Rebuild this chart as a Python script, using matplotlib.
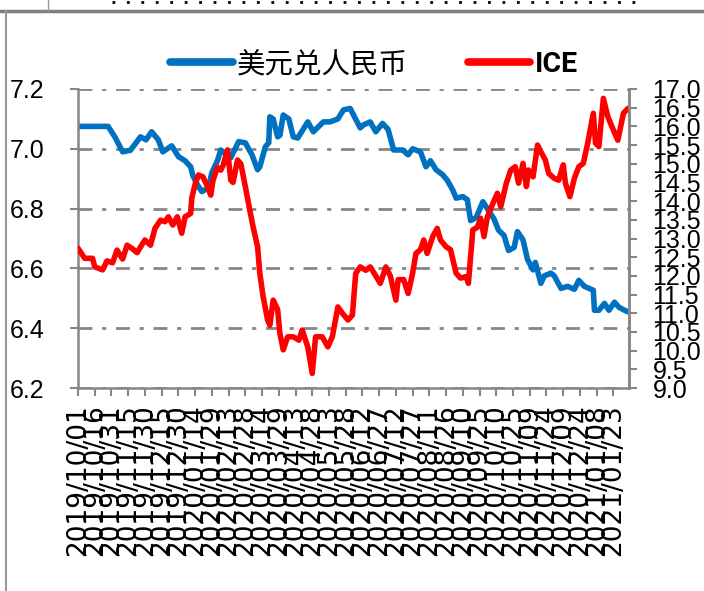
import pandas as pd
import matplotlib
matplotlib.use("Agg")
import matplotlib.pyplot as plt
from matplotlib.lines import Line2D

# USD/CNY
usd_dates = ["2019-10-01", "2019-10-16", "2019-10-28", "2019-11-03", "2019-11-10", "2019-11-17",
             "2019-11-26", "2019-12-01", "2019-12-06", "2019-12-12", "2019-12-16", "2019-12-24",
             "2019-12-30", "2020-01-05", "2020-01-10", "2020-01-12", "2020-01-16", "2020-01-20",
             "2020-01-26", "2020-01-29", "2020-02-03", "2020-02-06", "2020-02-08", "2020-02-15",
             "2020-02-22", "2020-02-28", "2020-03-05", "2020-03-10", "2020-03-12", "2020-03-17",
             "2020-03-20", "2020-03-21", "2020-03-24", "2020-03-28", "2020-03-30", "2020-04-02",
             "2020-04-07", "2020-04-11", "2020-04-15", "2020-04-24", "2020-04-29", "2020-05-08",
             "2020-05-14", "2020-05-21", "2020-05-26", "2020-06-01", "2020-06-10", "2020-06-13",
             "2020-06-19", "2020-06-24", "2020-06-30", "2020-07-05", "2020-07-10", "2020-07-18",
             "2020-07-23", "2020-07-27", "2020-08-03", "2020-08-08", "2020-08-12", "2020-08-17",
             "2020-08-23", "2020-08-27", "2020-09-01", "2020-09-04", "2020-09-10", "2020-09-14",
             "2020-09-17", "2020-09-22", "2020-09-28", "2020-10-02", "2020-10-08", "2020-10-12",
             "2020-10-17", "2020-10-21", "2020-10-26", "2020-10-29", "2020-11-03", "2020-11-07",
             "2020-11-12", "2020-11-14", "2020-11-19", "2020-11-22", "2020-11-28", "2020-12-01",
             "2020-12-07", "2020-12-13", "2020-12-19", "2020-12-23", "2020-12-28", "2021-01-05",
             "2021-01-06", "2021-01-10", "2021-01-15", "2021-01-19", "2021-01-24", "2021-01-28",
             "2021-02-02", "2021-02-05"]
usd_values = [7.075, 7.075, 7.075, 7.04, 6.99, 6.995,
              7.04, 7.03, 7.057, 7.03, 6.99, 7.01,
              6.974, 6.96, 6.94, 6.91, 6.88, 6.857,
              6.87, 6.92, 6.96, 6.996, 6.99, 6.97,
              7.024, 7.02, 6.98, 6.93, 6.94, 7.007,
              7.02, 7.107, 7.10, 7.04, 7.045, 7.113,
              7.10, 7.04, 7.036, 7.09, 7.057, 7.09,
              7.09, 7.10, 7.13, 7.135, 7.07, 7.08,
              7.09, 7.057, 7.085, 7.065, 6.996, 6.996,
              6.98, 7.0, 6.99, 6.94, 6.96, 6.93,
              6.913, 6.895, 6.862, 6.835, 6.84, 6.83,
              6.76, 6.77, 6.823, 6.80, 6.765, 6.728,
              6.71, 6.66, 6.67, 6.723, 6.695, 6.63,
              6.595, 6.62, 6.55, 6.575, 6.584, 6.575,
              6.533, 6.54, 6.53, 6.56, 6.54, 6.527,
              6.46, 6.46, 6.483, 6.46, 6.487, 6.47,
              6.46, 6.455]

# ICE sugar, right axis
ice_dates = ["2019-10-01", "2019-10-07", "2019-10-14", "2019-10-16", "2019-10-23", "2019-10-27",
             "2019-11-01", "2019-11-05", "2019-11-10", "2019-11-14", "2019-11-19", "2019-11-23",
             "2019-11-27", "2019-11-30", "2019-12-05", "2019-12-09", "2019-12-14", "2019-12-18",
             "2019-12-21", "2019-12-25", "2019-12-29", "2020-01-02", "2020-01-05", "2020-01-10",
             "2020-01-11", "2020-01-14", "2020-01-17", "2020-01-21", "2020-01-25", "2020-01-28",
             "2020-01-30", "2020-02-03", "2020-02-06", "2020-02-08", "2020-02-12", "2020-02-15",
             "2020-02-17", "2020-02-21", "2020-02-24", "2020-02-28", "2020-03-03", "2020-03-06",
             "2020-03-10", "2020-03-12", "2020-03-15", "2020-03-19", "2020-03-21", "2020-03-24",
             "2020-03-28", "2020-03-30", "2020-04-02", "2020-04-06", "2020-04-11", "2020-04-16",
             "2020-04-19", "2020-04-24", "2020-04-28", "2020-05-01", "2020-05-07", "2020-05-12",
             "2020-05-16", "2020-05-21", "2020-05-25", "2020-05-30", "2020-06-03", "2020-06-06",
             "2020-06-10", "2020-06-15", "2020-06-19", "2020-06-24", "2020-06-28", "2020-07-03",
             "2020-07-07", "2020-07-12", "2020-07-14", "2020-07-19", "2020-07-23", "2020-07-27",
             "2020-07-30", "2020-08-03", "2020-08-06", "2020-08-09", "2020-08-14", "2020-08-18",
             "2020-08-21", "2020-08-26", "2020-08-30", "2020-09-04", "2020-09-08", "2020-09-13",
             "2020-09-15", "2020-09-19", "2020-09-23", "2020-09-26", "2020-09-29", "2020-10-02",
             "2020-10-07", "2020-10-11", "2020-10-14", "2020-10-19", "2020-10-23", "2020-10-27",
             "2020-10-30", "2020-11-03", "2020-11-06", "2020-11-08", "2020-11-12", "2020-11-16",
             "2020-11-19", "2020-11-23", "2020-11-26", "2020-12-01", "2020-12-05", "2020-12-09",
             "2020-12-11", "2020-12-15", "2020-12-19", "2020-12-23", "2020-12-27", "2020-12-31",
             "2021-01-05", "2021-01-07", "2021-01-10", "2021-01-14", "2021-01-18", "2021-01-23",
             "2021-01-27", "2021-02-01", "2021-02-05"]
ice_values = [12.74, 12.47, 12.47, 12.24, 12.16, 12.40,
              12.35, 12.69, 12.45, 12.82, 12.72, 12.62,
              12.82, 12.96, 12.82, 13.27, 13.49, 13.45,
              13.58, 13.36, 13.58, 13.14, 13.58, 13.67,
              14.08, 14.45, 14.70, 14.65, 14.40, 14.16,
              14.55, 14.90, 14.83, 14.95, 15.37, 14.56,
              14.50, 15.10, 15.00, 14.39, 13.76, 13.31,
              12.78, 12.07, 11.44, 10.82, 10.68, 11.35,
              11.10, 10.46, 10.02, 10.37, 10.37, 10.28,
              10.55, 10.10, 9.39, 10.37, 10.37, 10.10,
              10.37, 11.17, 11.00, 10.82, 10.95, 12.07,
              12.24, 12.15, 12.24, 12.00, 11.80, 12.24,
              12.00, 11.35, 11.90, 11.90, 11.53, 12.07,
              12.60, 12.70, 12.96, 12.60, 13.05, 13.27,
              12.96, 12.78, 12.70, 12.07, 11.94, 11.98,
              11.80, 13.23, 13.30, 13.54, 13.05, 13.58,
              13.94, 14.21, 13.85, 14.48, 14.83, 14.92,
              14.48, 15.01, 14.39, 14.83, 14.65, 15.50,
              15.32, 15.10, 14.74, 14.61, 14.56, 14.97,
              14.48, 14.12, 14.61, 14.92, 15.01, 15.55,
              16.35, 15.55, 15.46, 16.75, 16.26, 15.90,
              15.63, 16.35, 16.48]

# x tick labels every 15 days, as on the original axis
tick_dates = pd.date_range("2019-10-01", "2021-01-23", freq="15D")
left_ticks = [6.2, 6.4, 6.6, 6.8, 7.0, 7.2]
right_ticks = [9.0, 9.5, 10.0, 10.5, 11.0, 11.5, 12.0, 12.5, 13.0, 13.5,
               14.0, 14.5, 15.0, 15.5, 16.0, 16.5, 17.0]

BLUE = "#0070C0"
RED = "#FF0000"
GREY = "#868686"
NUM_FONT = ["Liberation Sans", "DejaVu Sans"]

fig = plt.figure(figsize=(7.04, 5.91), dpi=100)
ax = fig.add_axes([78 / 704, 1 - 388 / 591, 551 / 704, 299 / 591])
ax2 = ax.twinx()

line1, = ax.plot(pd.to_datetime(usd_dates), usd_values, color=BLUE, lw=4, solid_capstyle="round")
line2, = ax2.plot(pd.to_datetime(ice_dates), ice_values, color=RED, lw=4, solid_capstyle="round")

ax.set_xlim(pd.Timestamp("2019-10-01"), pd.Timestamp("2021-02-06"))
ax.set_ylim(6.2, 7.2)
ax2.set_ylim(9.0, 17.0)

ax.set_xticks(tick_dates)
ax.set_xticklabels([d.strftime("%Y/%m/%d") for d in tick_dates], rotation=90,
                   fontsize=19, family="DejaVu Sans")
ax.set_yticks(left_ticks)
ax.set_yticklabels(["%.1f" % v for v in left_ticks], fontsize=18, family=NUM_FONT)
ax2.set_yticks(right_ticks)
ax2.set_yticklabels(["%.1f" % v for v in right_ticks], fontsize=18, family=NUM_FONT)

# dash-dot horizontal grid from the left axis
ax.yaxis.grid(True, color=GREY, lw=2, linestyle=(0, (5, 3.5, 1.5, 3.5)))
ax.set_axisbelow(True)

for a in (ax, ax2):
    for s in a.spines.values():
        s.set_color(GREY)
        s.set_linewidth(1.8)
    a.spines["top"].set_visible(False)
ax2.spines["left"].set_visible(False)
ax2.spines["bottom"].set_visible(False)

ax.tick_params(axis="x", direction="out", length=6, width=1.5, color=GREY, pad=6)
ax.tick_params(axis="y", direction="out", length=6, width=1.5, color=GREY, pad=18)
ax2.tick_params(axis="y", direction="out", length=6, width=1.5, color=GREY, pad=11)

leg = fig.legend([line1, line2], ["美元兑人民币", "ICE"], loc="center",
                 bbox_to_anchor=(374 / 704, 1 - 64 / 591), ncol=2, frameon=False,
                 handlelength=2.2, handletextpad=0.15, columnspacing=2.1,
                 prop={"family": ["Noto Sans CJK SC", "DejaVu Sans"], "size": 20.5})
for h in leg.legend_handles:
    h.set_linewidth(5.5)
leg.get_texts()[1].set_fontweight("bold")
leg.get_texts()[1].set_family(["Roboto", "DejaVu Sans"])

# frame of the surrounding screenshot
fig.add_artist(Line2D([0, 1], [1 - 11 / 591] * 2, transform=fig.transFigure, color="#7f7f7f", lw=2.5))
fig.add_artist(Line2D([6 / 704] * 2, [0, 1 - 11 / 591], transform=fig.transFigure, color="#9a9a9a", lw=1.5))
fig.add_artist(Line2D([48 / 704] * 2, [1 - 10 / 591, 1], transform=fig.transFigure, color="#9a9a9a", lw=1))
fig.add_artist(Line2D([112 / 704, 642 / 704], [1 - 2 / 591] * 2, transform=fig.transFigure,
                      color="black", lw=2, linestyle=(0, (1, 4.2))))

fig.savefig("out.png", dpi=100)
